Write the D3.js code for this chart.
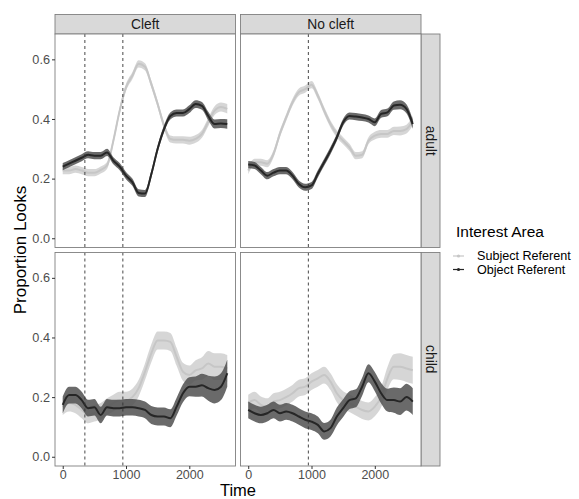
<!DOCTYPE html>
<html><head><meta charset="utf-8">
<script src="https://cdn.jsdelivr.net/npm/d3@7"></script>
<style>body{margin:0;background:#fff}svg{display:block;font-family:"Liberation Sans",Arial,sans-serif}</style>
</head><body><svg id="c" width="579" height="499"></svg>
<script>
const colFacets = ["Cleft", "No cleft"];
const rowFacets = ["adult", "child"];
const seriesNames = ["Subject Referent", "Object Referent"];
const timeMs = [0,100,200,300,400,500,600,700,800,900,1000,1100,1200,1300,1400,1500,1600,1700,1800,1900,2000,2100,2200,2300,2400,2500,2600];
const xTicks = [0, 1000, 2000];
const yTicks = [0.0, 0.2, 0.4, 0.6];
const dashLines = { "Cleft": [350, 950], "No cleft": [950] };

const cleftAdultSubject = [0.227,0.227,0.232,0.227,0.22,0.22,0.229,0.244,0.327,0.428,0.506,0.545,0.585,0.575,0.517,0.45,0.378,0.333,0.33,0.33,0.327,0.333,0.35,0.39,0.428,0.44,0.434];
const cleftAdultObject  = [0.24,0.25,0.26,0.27,0.28,0.277,0.277,0.288,0.26,0.24,0.21,0.188,0.152,0.15,0.215,0.30,0.366,0.41,0.42,0.42,0.433,0.45,0.444,0.41,0.383,0.385,0.383];
const noCleftAdultSubject = [0.227,0.255,0.255,0.25,0.283,0.35,0.405,0.456,0.49,0.5,0.515,0.478,0.428,0.383,0.35,0.327,0.305,0.277,0.28,0.327,0.344,0.35,0.35,0.36,0.36,0.366,0.394];
const noCleftAdultObject  = [0.247,0.244,0.227,0.21,0.22,0.227,0.227,0.21,0.182,0.171,0.177,0.216,0.255,0.294,0.338,0.389,0.41,0.408,0.405,0.4,0.389,0.417,0.422,0.445,0.448,0.434,0.383];
const cleftChildSubject = [0.168,0.18,0.174,0.157,0.14,0.146,0.152,0.168,0.18,0.19,0.19,0.2,0.23,0.285,0.347,0.39,0.39,0.385,0.335,0.285,0.274,0.29,0.296,0.313,0.302,0.302,0.296];
const cleftChildObject  = [0.174,0.207,0.207,0.19,0.163,0.166,0.14,0.166,0.163,0.163,0.166,0.166,0.163,0.157,0.14,0.135,0.135,0.129,0.168,0.213,0.235,0.235,0.24,0.23,0.224,0.235,0.28];
const noCleftChildSubject = [0.18,0.19,0.174,0.168,0.185,0.19,0.2,0.213,0.23,0.235,0.252,0.263,0.274,0.252,0.213,0.19,0.18,0.168,0.157,0.152,0.168,0.2,0.263,0.302,0.302,0.296,0.29];
const noCleftChildObject  = [0.157,0.146,0.14,0.146,0.157,0.146,0.152,0.146,0.135,0.124,0.118,0.107,0.085,0.096,0.135,0.163,0.19,0.196,0.235,0.28,0.252,0.213,0.19,0.19,0.185,0.2,0.185];
const seAdult = [0.012,0.012,0.012,0.012,0.012,0.012,0.012,0.012,0.012,0.012,0.012,0.012,0.012,0.012,0.012,0.012,0.012,0.012,0.012,0.012,0.013,0.013,0.013,0.014,0.015,0.015,0.016];
const seChild = [0.028,0.028,0.028,0.028,0.028,0.028,0.028,0.028,0.028,0.028,0.028,0.028,0.028,0.028,0.03,0.03,0.03,0.03,0.03,0.03,0.032,0.034,0.038,0.042,0.045,0.045,0.045];

const panelData = {
  "Cleft|adult": [cleftAdultSubject, cleftAdultObject],
  "No cleft|adult": [noCleftAdultSubject, noCleftAdultObject],
  "Cleft|child": [cleftChildSubject, cleftChildObject],
  "No cleft|child": [noCleftChildSubject, noCleftChildObject]
};
const seByRow = { adult: seAdult, child: seChild };

const lineColors = ["#c6c6c6", "#262626"];
const bandColors = ["#d2d2d2", "#505050"];

const svg = d3.select("#c");
const colX = [55, 240.5], panelW = 180.5;
const rowY = [34, 252.5], panelH = 213.5;
const x = d3.scaleLinear().domain([-122, 2730]).range([0, panelW]);
const y = d3.scaleLinear().domain([-0.031, 0.685]).range([panelH, 0]);
const border = "#7f7f7f";

colFacets.forEach((cf, ci) => {
  const s = svg.append("g").attr("transform", `translate(${colX[ci]},14.5)`);
  s.append("rect").attr("width", panelW).attr("height", 19.5).attr("fill", "#d9d9d9").attr("stroke", border).attr("stroke-width", 0.9);
  s.append("text").attr("x", panelW/2).attr("y", 14.5).attr("text-anchor", "middle").attr("font-size", 13.8).attr("fill", "#1a1a1a").text(cf);
});
rowFacets.forEach((rf, ri) => {
  const s = svg.append("g").attr("transform", `translate(421,${rowY[ri]})`);
  s.append("rect").attr("width", 19).attr("height", panelH).attr("fill", "#d9d9d9").attr("stroke", border).attr("stroke-width", 0.9);
  s.append("text").attr("transform", `translate(4.5,${panelH/2}) rotate(90)`).attr("text-anchor", "middle").attr("font-size", 13.8).attr("fill", "#1a1a1a").text(rf);
});

rowFacets.forEach((rf, ri) => {
  colFacets.forEach((cf, ci) => {
    const g = svg.append("g").attr("transform", `translate(${colX[ci]},${rowY[ri]})`);
    const clipId = `clip${ri}${ci}`;
    g.append("clipPath").attr("id", clipId).append("rect").attr("width", panelW).attr("height", panelH);
    g.append("rect").attr("width", panelW).attr("height", panelH).attr("fill", "#fff");
    const pg = g.append("g").attr("clip-path", `url(#${clipId})`);
    const se = seByRow[rf];
    panelData[cf + "|" + rf].forEach((vals, si) => {
      const pts = timeMs.map((t, i) => ({ t, v: vals[i], e: se[i] }));
      pg.append("path").datum(pts)
        .attr("d", d3.area().x(d => x(d.t)).y0(d => y(d.v - d.e)).y1(d => y(d.v + d.e)).curve(d3.curveMonotoneX))
        .attr("fill", bandColors[si]).attr("opacity", si === 0 ? 0.9 : 0.85);
      pg.append("path").datum(pts)
        .attr("d", d3.line().x(d => x(d.t)).y(d => y(d.v)).curve(d3.curveMonotoneX))
        .attr("fill", "none").attr("stroke", lineColors[si]).attr("stroke-width", 2);
    });
    dashLines[cf].forEach(t => {
      pg.append("line").attr("x1", x(t)).attr("x2", x(t)).attr("y1", 0).attr("y2", panelH)
        .attr("stroke", "#333").attr("stroke-width", 0.9).attr("stroke-dasharray", "3,3");
    });
    g.append("rect").attr("width", panelW).attr("height", panelH).attr("fill", "none").attr("stroke", border).attr("stroke-width", 0.9);
    if (ci === 0) {
      const ya = g.append("g").call(d3.axisLeft(y).tickValues(yTicks).tickFormat(d3.format(".1f")).tickSize(3).tickPadding(2));
      ya.select(".domain").remove();
      ya.selectAll("line").attr("stroke", "#333");
      ya.selectAll("text").attr("font-size", 12.7).attr("fill", "#4d4d4d").attr("font-family", "Liberation Sans, Arial, sans-serif");
    }
    if (ri === 1) {
      const xa = g.append("g").attr("transform", `translate(0,${panelH})`).call(d3.axisBottom(x).tickValues(xTicks).tickFormat(d3.format("d")).tickSize(3).tickPadding(1.5));
      xa.select(".domain").remove();
      xa.selectAll("line").attr("stroke", "#333");
      xa.selectAll("text").attr("font-size", 12.5).attr("fill", "#4d4d4d").attr("font-family", "Liberation Sans, Arial, sans-serif");
    }
  });
});

svg.append("text").attr("transform", "translate(26,250) rotate(-90)").attr("text-anchor", "middle").attr("font-size", 17).attr("fill", "#000").text("Proportion Looks");
svg.append("text").attr("x", 238).attr("y", 496).attr("text-anchor", "middle").attr("font-size", 16.5).attr("fill", "#000").text("Time");

const lg = svg.append("g");
lg.append("text").attr("x", 456).attr("y", 237).attr("font-size", 15.5).attr("fill", "#000").text("Interest Area");
seriesNames.forEach((n, i) => {
  const cy = 256 + i * 13.5;
  lg.append("line").attr("x1", 453).attr("x2", 464).attr("y1", cy).attr("y2", cy).attr("stroke", lineColors[i]).attr("stroke-width", 1.2);
  lg.append("circle").attr("cx", 458.5).attr("cy", cy).attr("r", 1.6).attr("fill", lineColors[i]);
  lg.append("text").attr("x", 477).attr("y", cy + 4.3).attr("font-size", 12.6).attr("fill", "#000").text(n);
});
</script></body></html>
